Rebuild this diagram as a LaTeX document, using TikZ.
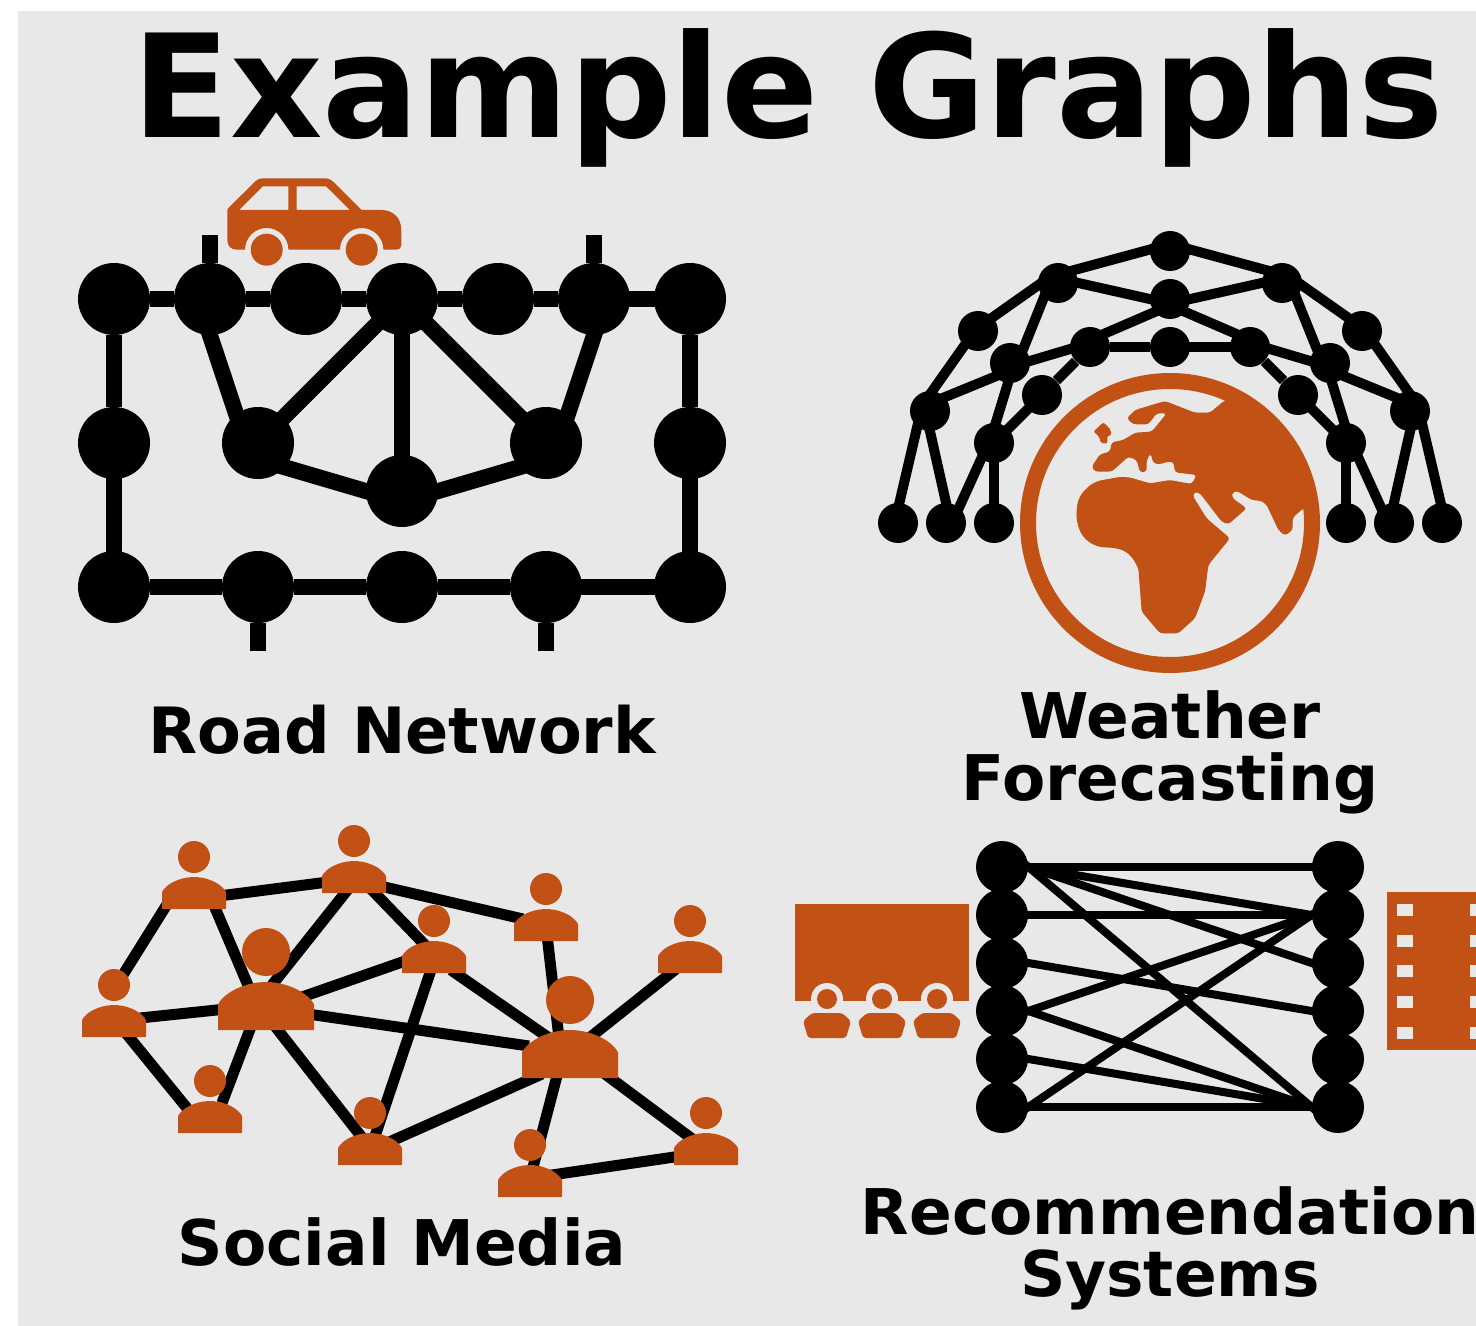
\documentclass[tikz,border=0pt]{standalone}
\usepackage{fontspec}
\setmainfont{DejaVu Sans}
\definecolor{iconcol}{HTML}{C15115}
\definecolor{bgcol}{HTML}{E8E8E8}
\tikzset{
	roadnode/.style={circle, fill=black, inner sep=0pt, minimum size=36pt},
	stubedge/.style={line width=8pt},
	roadedge/.style={line width=8pt, shorten <=-6pt, shorten >=-6pt},
	weathernode/.style={circle, fill=black, inner sep=0pt, minimum size=20pt},
	weatheredge/.style={line width=5pt, shorten <=-3pt, shorten >=-3pt},
	recnode/.style={circle, fill=black, inner sep=0pt, minimum size=26pt},
	recedge/.style={line width=4pt, shorten <=-3pt, shorten >=-3pt},
	socialpoint/.style={inner sep=0pt, minimum size=0pt},
	socialedge/.style={line width=5.5pt},
	bigtitle/.style={font=\bfseries\fontsize{71.7}{72}\selectfont},
	graphtitle/.style={font=\bfseries\fontsize{31.5}{31}\selectfont, align=center},
	person/.pic={
		\fill [iconcol] (0,-36) circle (16);
		\fill [iconcol] (-32,16) -- (-32,-1) .. controls (-28,-9) and (-14,-16) .. (0,-16) .. controls (14,-16) and (28,-9) .. (32,-1) -- (32,16) -- cycle;
	},
	viewer/.pic={
		\fill [bgcol] (0,0) circle (16);
		\fill [iconcol] (0,0) circle (10);
		\fill [iconcol, rounded corners=1.5pt] (-19,39) -- (-24,22) -- (-15,14) -- (15,14) -- (24,22) -- (19,39) -- cycle;
	},
}
\begin{document}
\begin{tikzpicture}[x=0.5pt, y=-0.5pt]
	\useasboundingbox (0,0) rectangle (1476,1326);
	\clip (0,0) rectangle (1476,1326);
	\fill [bgcol] (18,11) rectangle (1476,1326);

	\node (title) at (788,138) [bigtitle, anchor=base] {Example Graphs};

	\node (r1) at (114,299) [roadnode] {};
	\node (r2) at (210,299) [roadnode] {};
	\node (r3) at (306,299) [roadnode] {};
	\node (r4) at (402,299) [roadnode] {};
	\node (r5) at (498,299) [roadnode] {};
	\node (r6) at (594,299) [roadnode] {};
	\node (r7) at (690,299) [roadnode] {};
	\node (r8) at (114,443) [roadnode] {};
	\node (r9) at (258,443) [roadnode] {};
	\node (r10) at (546,443) [roadnode] {};
	\node (r11) at (690,443) [roadnode] {};
	\node (r12) at (402,491) [roadnode] {};
	\node (r13) at (114,587) [roadnode] {};
	\node (r14) at (258,587) [roadnode] {};
	\node (r15) at (402,587) [roadnode] {};
	\node (r16) at (546,587) [roadnode] {};
	\node (r17) at (690,587) [roadnode] {};
	\coordinate (c1) at (210,235);
	\coordinate (c2) at (594,235);
	\coordinate (c3) at (258,651);
	\coordinate (c4) at (546,651);

	\draw [roadedge] (r1) -- (r2) -- (r3) -- (r4) -- (r5) -- (r6) -- (r7);
	\draw [roadedge] (r13) -- (r14) -- (r15) -- (r16) -- (r17);
	\draw [roadedge] (r1) -- (r8) -- (r13);
	\draw [roadedge] (r7) -- (r11) -- (r17);
	\draw [roadedge] (r2.south) -- (r9.127);
	\draw [roadedge] (r4) -- (r9);
	\draw [roadedge] (r4) -- (r12);
	\draw [roadedge] (r4) -- (r10);
	\draw [roadedge] (r6.south) -- (r10.53);
	\draw [roadedge] (r9.-42) -- (r12.west);
	\draw [roadedge] (r10.222) -- (r12.east);
	\draw [stubedge] (r2) -- (c1);
	\draw [stubedge] (r6) -- (c2);
	\draw [stubedge] (r14) -- (c3);
	\draw [stubedge] (r16) -- (c4);

	\fill [iconcol, even odd rule] (227.3,240) .. controls (227.3,246) and (231,249.7) .. (236.7,249.7) -- (245,249.7) arc [start angle=180, end angle=360, radius=21.7] -- (340,249.7) arc [start angle=180, end angle=360, radius=21.7] -- (396.7,249.7) .. controls (399.5,249.7) and (401.3,248) .. (401.3,245) -- (401.3,230) .. controls (401.3,218) and (393,210) .. (381.7,210) -- (361.7,210) -- (335,183.3) .. controls (331.5,180) and (329,178.3) .. (325,178.3) -- (263.3,178.3) .. controls (259,178.3) and (256.5,180) .. (253.3,183.3) -- (230.7,205.7) .. controls (228.5,207.5) and (227.3,209) .. (227.3,210) -- cycle
		(239,210) -- (262.7,186.3) -- (288.3,186.3) -- (288.3,210) -- cycle
		(296.7,210) -- (296.7,186.3) -- (326,186.3) -- (350,210) -- cycle;
	\fill [iconcol] (266.7,249.7) circle (16);
	\fill [iconcol] (361.7,249.7) circle (16);

	\node (roadlabel) at (402,730) [graphtitle, font=\bfseries\fontsize{31.9}{31}\selectfont] {Road Network};

	\node (w1) at (1170,251) [weathernode] {};
	\node (w2) at (1058,283) [weathernode] {};
	\node (w3) at (1282,283) [weathernode] {};
	\node (w4) at (1170,299) [weathernode] {};
	\node (w5) at (978,331) [weathernode] {};
	\node (w6) at (1362,331) [weathernode] {};
	\node (w7) at (1010,363) [weathernode] {};
	\node (w8) at (1330,363) [weathernode] {};
	\node (w9) at (1090,347) [weathernode] {};
	\node (w10) at (1170,347) [weathernode] {};
	\node (w11) at (1250,347) [weathernode] {};
	\node (w12) at (1042,395) [weathernode] {};
	\node (w13) at (1298,395) [weathernode] {};
	\node (w14) at (930,411) [weathernode] {};
	\node (w15) at (1410,411) [weathernode] {};
	\node (w16) at (994,443) [weathernode] {};
	\node (w17) at (1346,443) [weathernode] {};
	\node (w18) at (898,523) [weathernode] {};
	\node (w19) at (946,523) [weathernode] {};
	\node (w20) at (994,523) [weathernode] {};
	\node (w21) at (1346,523) [weathernode] {};
	\node (w22) at (1394,523) [weathernode] {};
	\node (w23) at (1442,523) [weathernode] {};

	\draw [weatheredge] (w1.176) -- (w2.39);
	\draw [weatheredge] (w1.4) -- (w3.141);
	\draw [weatheredge] (w2.east) -- (w4.west);
	\draw [weatheredge] (w3.west) -- (w4.east);
	\draw [weatheredge] (w4.220) -- (w9.42);
	\draw [weatheredge] (w4.-40) -- (w11.138);
	\draw [weatheredge] (w9) -- (w10) -- (w11);
	\draw [weatheredge] (w7.6) -- (w9.186);
	\draw [weatheredge] (w8.174) -- (w11.-6);
	\draw [weatheredge] (w2.187) -- (w5.43);
	\draw [weatheredge] (w3.-7) -- (w6.137);
	\draw [weatheredge] (w5.227) -- (w14.83);
	\draw [weatheredge] (w6.-47) -- (w15.97);
	\draw [weatheredge] (w2.226) -- (w7.48);
	\draw [weatheredge] (w3.-46) -- (w8.132);
	\draw [weatheredge] (w7.222) -- (w14.43);
	\draw [weatheredge] (w8.-42) -- (w15.137);
	\draw [weatheredge] (w7.264) -- (w16.85);
	\draw [weatheredge] (w8.276) -- (w17.95);
	\draw [weatheredge] (w9) -- (w12) -- (w16);
	\draw [weatheredge] (w11) -- (w13) -- (w17);
	\draw [weatheredge] (w14.231) -- (w18.86);
	\draw [weatheredge] (w14.south) -- (w19.north);
	\draw [weatheredge] (w16.231) -- (w19.50);
	\draw [weatheredge] (w16) -- (w20);
	\draw [weatheredge] (w15.-51) -- (w23.94);
	\draw [weatheredge] (w15.south) -- (w22.north);
	\draw [weatheredge] (w17.-51) -- (w22.130);
	\draw [weatheredge] (w17) -- (w21);

	\begin{scope}[shift={(1010,365)}, scale=1/3]
		\fill [iconcol, rounded corners=1.5pt] (645,105) -- (800,180) -- (880,300) -- (900,430) -- (880,430) -- (848,458) -- (848,495) -- (825,512) -- (805,495) -- (770,420) -- (755,408) -- (725,405) -- (680,377) -- (665,385) -- (668,400) -- (710,430) -- (655,478) -- (635,470) -- (570,385) -- (555,380) -- (548,392) -- (590,460) -- (660,520) -- (595,600) -- (585,680) -- (555,760) -- (505,805) -- (450,805) -- (395,740) -- (385,610) [rounded corners=4pt] -- (360,565) -- (320,548) -- (260,547) -- (215,515) -- (197,460) -- (205,395) -- (250,350) -- (345,333) [rounded corners=1.5pt] -- (420,355) -- (480,345) -- (545,357) -- (560,330) -- (495,322) -- (490,290) -- (465,292) -- (450,298) -- (430,295) -- (422,265) -- (410,285) -- (410,320) -- (390,322) -- (380,285) -- (355,275) -- (305,320) -- (255,320) -- (245,305) -- (270,268) -- (300,260) -- (305,232) -- (340,225) -- (375,203) -- (425,200) -- (470,145) -- (440,145) -- (415,178) -- (370,178) -- (350,160) -- (375,135) -- (465,108) -- (555,143) -- (600,143) -- cycle;
		\fill [iconcol, rounded corners=1pt] (280,172) -- (303,195) -- (303,212) -- (292,212) -- (292,235) -- (272,235) -- (268,215) -- (250,200) -- cycle;
	\end{scope}
	\draw [iconcol, line width=8pt] (1170,523) circle (142);

	\node (weatherlabel) at (1170,752) [graphtitle] {Weather\\Forecasting};

	\node (s1) at (194,893) [socialpoint] {};
	\node (s2) at (354,877) [socialpoint] {};
	\node (s3) at (546,925) [socialpoint] {};
	\node (s4) at (434,957) [socialpoint] {};
	\node (s5) at (690,957) [socialpoint] {};
	\node (s6) at (114,1021) [socialpoint] {};
	\node (s7) at (210,1117) [socialpoint] {};
	\node (s8) at (370,1149) [socialpoint] {};
	\node (s9) at (706,1149) [socialpoint] {};
	\node (s10) at (530,1181) [socialpoint] {};
	\node (s11) at (266,1006) [socialpoint] {};
	\node (s12) at (570,1054) [socialpoint] {};

	\draw [socialedge] ([shift={(25,3)}]s1.center) -- ([shift={(-26,5)}]s2.center);
	\draw [socialedge] ([shift={(-23,5)}]s1.center) -- ([shift={(7,-43)}]s6.center);
	\draw [socialedge] ([shift={(19,10)}]s1.center) -- ([shift={(-16,-16)}]s11.center);
	\draw [socialedge] ([shift={(-5,11)}]s2.center) -- ([shift={(6,-21)}]s11.center);
	\draw [socialedge] ([shift={(16,11)}]s2.center) -- ([shift={(-7,-10)}]s4.center);
	\draw [socialedge] ([shift={(26,9)}]s2.center) -- ([shift={(-23,-6)}]s3.center);
	\draw [socialedge] ([shift={(1,10)}]s3.center) -- ([shift={(-11,-16)}]s12.center);
	\draw [socialedge] ([shift={(-26,3)}]s4.center) -- ([shift={(36,-9)}]s11.center);
	\draw [socialedge] ([shift={(17,13)}]s4.center) -- ([shift={(-18,-14)}]s12.center);
	\draw [socialedge] ([shift={(-2,10)}]s4.center) -- ([shift={(4,-10)}]s8.center);
	\draw [socialedge] ([shift={(-14,12)}]s5.center) -- ([shift={(18,-15)}]s12.center);
	\draw [socialedge] ([shift={(26,-3)}]s6.center) -- ([shift={(-40,3)}]s11.center);
	\draw [socialedge] ([shift={(11,11)}]s6.center) -- ([shift={(-19,-4)}]s7.center);
	\draw [socialedge] ([shift={(12,-14)}]s7.center) -- ([shift={(-14,18)}]s11.center);
	\draw [socialedge] ([shift={(-6,-9)}]s8.center) -- ([shift={(8,19)}]s11.center);
	\draw [socialedge] ([shift={(42,8)}]s11.center) -- ([shift={(-41,-8)}]s12.center);
	\draw [socialedge] ([shift={(17,-6)}]s8.center) -- ([shift={(-28,20)}]s12.center);
	\draw [socialedge] ([shift={(2,-10)}]s10.center) -- ([shift={(-12,18)}]s12.center);
	\draw [socialedge] ([shift={(-11,-8)}]s9.center) -- ([shift={(35,20)}]s12.center);
	\draw [socialedge] ([shift={(-25,7)}]s9.center) -- ([shift={(15,-5)}]s10.center);

	\pic at (s1) {person};
	\pic at (s2) {person};
	\pic at (s3) {person};
	\pic at (s4) {person};
	\pic at (s5) {person};
	\pic at (s6) {person};
	\pic at (s7) {person};
	\pic at (s8) {person};
	\pic at (s9) {person};
	\pic at (s10) {person};
	\pic [scale=1.5] at (s11) {person};
	\pic [scale=1.5] at (s12) {person};

	\node (sociallabel) at (402,1242) [graphtitle] {Social Media};

	\fill [iconcol] (795,904) rectangle (969,1001);
	\pic at (827,999) {viewer};
	\pic at (882,999) {viewer};
	\pic at (937,999) {viewer};

	\node (a1) at (1002,867) [recnode] {};
	\node (a2) at (1002,915) [recnode] {};
	\node (a3) at (1002,963) [recnode] {};
	\node (a4) at (1002,1011) [recnode] {};
	\node (a5) at (1002,1059) [recnode] {};
	\node (a6) at (1002,1107) [recnode] {};
	\node (b1) at (1338,867) [recnode] {};
	\node (b2) at (1338,915) [recnode] {};
	\node (b3) at (1338,963) [recnode] {};
	\node (b4) at (1338,1011) [recnode] {};
	\node (b5) at (1338,1059) [recnode] {};
	\node (b6) at (1338,1107) [recnode] {};

	\draw [recedge] (a1.east) to (b1.west);
	\draw [recedge] (a1.east) to (b2.west);
	\draw [recedge] (a1.east) to (b3.west);
	\draw [recedge] (a1.east) to (b6.west);
	\draw [recedge] (a2.east) to (b2.west);
	\draw [recedge] (a3.east) to (b4.west);
	\draw [recedge] (a4.east) to (b2.west);
	\draw [recedge] (a4.east) to (b6.west);
	\draw [recedge] (a5.east) to (b6.west);
	\draw [recedge] (a6.east) to (b6.west);
	\draw [recedge] (a6.east) to (b2.west);

	\fill [iconcol] (1387,892) rectangle (1490,1050);
	\foreach \y in {904,935,965,996,1027} {
		\fill [bgcol] (1397,\y) rectangle (1413,\y+12);
		\fill [bgcol] (1470,\y) rectangle (1486,\y+12);
	}

	\node (reclabel) at (1170,1248) [graphtitle] {Recommendation\\Systems};
\end{tikzpicture}
\end{document}
